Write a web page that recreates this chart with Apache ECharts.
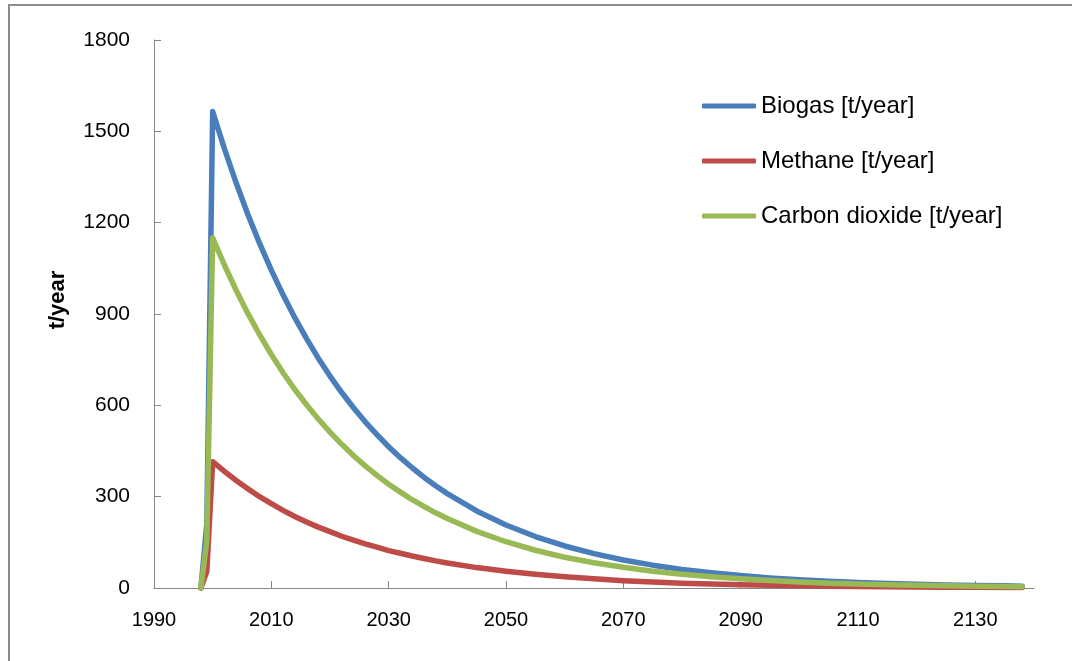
<!DOCTYPE html>
<html><head><meta charset="utf-8">
<script src="https://cdn.jsdelivr.net/npm/echarts@6/dist/echarts.min.js"></script>
<style>html,body{margin:0;padding:0;background:#fff}#c{width:1072px;height:661px}</style>
</head><body><div id="c"></div>
<script>
const years   = [1998,1999,2000,
                 2002,2004,2006,2008,2010,2012,2014,2016,2018,2020,
                 2022,2024,2026,2028,2030,2032,2034,2036,2038,2040,
                 2045,2050,2055,2060,2065,2070,2075,2080,2085,2090,2095,2100,2105,2110,2115,2120,2125,2130,2135,
                 2138];
const biogas  = [0,210,1565,
                 1443,1331,1227,1132,1044,963,888,819,755,696,
                 642,592,546,504,464,428,395,364,336,310,
                 253,207,169,138,113,92,75,61,50,41,33,27,22,18,15,12,10,8,7,
                 6];
const methane = [0,55,415,
                 383,353,326,300,277,255,235,217,200,185,
                 170,157,145,134,123,114,105,97,89,82,
                 67,55,45,37,30,24,20,16,13,11,9,7,6,5,4,3,2.6,2.1,1.8,
                 1.6];
const co2     = [0,155,1150,
                 1061,978,902,832,767,707,652,602,555,512,
                 472,435,401,370,341,315,290,268,247,228,
                 186,152,124,101,83,68,55,45,37,30,25,20,16,13,11,9,7,6,5,
                 4.3];
const seriesNames = ['Biogas [t/year]','Methane [t/year]','Carbon dioxide [t/year]'];
const xTickLabels = [1990,2010,2030,2050,2070,2090,2110,2130];
const yAxisTitle = 't/year';

const FONT = 'Liberation Sans, Arial, sans-serif';
const axisGray = '#868686';
const pair = arr => years.map((y,i)=>[y,arr[i]]);

const chart = echarts.init(document.getElementById('c'), null, {renderer:'canvas'});
chart.setOption({
  animation:false,
  backgroundColor:'#ffffff',
  color:['#4A7EBB','#BE4B48','#98B954'],
  textStyle:{fontFamily:FONT},
  grid:{left:154,right:38,top:40,bottom:73,containLabel:false},
  graphic:[{type:'rect',shape:{x:9,y:5,width:1100,height:700},style:{fill:'none',stroke:'#8c8c8c',lineWidth:2},silent:true}],
  legend:{
    orient:'vertical',left:702,top:91,padding:0,itemWidth:54,itemHeight:5,itemGap:25,icon:'roundRect',
    textStyle:{fontSize:24,color:'#000',fontFamily:FONT,lineHeight:30},
    data:seriesNames
  },
  xAxis:{
    type:'value',min:1990,max:2140,
    axisLine:{lineStyle:{color:axisGray,width:1}},
    axisTick:{show:true,inside:true,length:7,lineStyle:{color:axisGray},customValues:xTickLabels},
    axisLabel:{fontSize:20,color:'#000',margin:22,customValues:xTickLabels,fontFamily:FONT,formatter:v=>String(v)},
    splitLine:{show:false}
  },
  yAxis:{
    type:'value',min:0,max:1800,interval:300,
    name:yAxisTitle,nameLocation:'middle',nameGap:85,
    nameTextStyle:{fontSize:22,fontWeight:'bold',color:'#000',fontFamily:FONT,padding:[0,0,0,28]},
    axisLine:{show:true,lineStyle:{color:axisGray,width:1}},
    axisTick:{show:true,inside:true,length:7,lineStyle:{color:axisGray}},
    axisLabel:{fontSize:21,color:'#000',margin:24,fontFamily:FONT,formatter:v=>String(v)},
    splitLine:{show:false}
  },
  series:[
    {name:seriesNames[0],type:'line',data:pair(biogas),showSymbol:false,symbol:'none',lineStyle:{width:5.5,cap:'round',join:'round'}},
    {name:seriesNames[1],type:'line',data:pair(methane),showSymbol:false,symbol:'none',lineStyle:{width:5.5,cap:'round',join:'round'}},
    {name:seriesNames[2],type:'line',data:pair(co2),showSymbol:false,symbol:'none',lineStyle:{width:5.5,cap:'round',join:'round'}}
  ]
});
</script></body></html>
